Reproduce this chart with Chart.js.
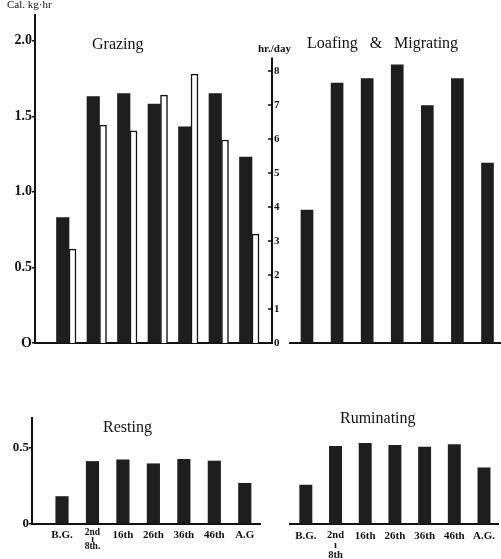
<!DOCTYPE html>
<html>
<head>
<meta charset="utf-8">
<script src="https://cdn.jsdelivr.net/npm/chart.js@4.4.0/dist/chart.umd.min.js"></script>
<style>
  body { margin: 0; background: #fff; }
  #wrap { position: relative; width: 501px; height: 559px; overflow: hidden; font-family: 'Liberation Serif', serif; color: #111; }
  canvas { position: absolute; }
  .t { position: absolute; white-space: pre; line-height: 1; }
</style>
</head>
<body>
<div id="wrap">
  <canvas id="cGraze" width="290" height="360" style="left:0;top:0"></canvas>
  <canvas id="cLoaf" width="216" height="360" style="left:285px;top:0"></canvas>
  <canvas id="cRest" width="285" height="179" style="left:0;top:380px"></canvas>
  <canvas id="cRum" width="216" height="179" style="left:285px;top:380px"></canvas>

  <div class="t" style="left:7px;top:-1px;font-size:11px">Cal. kg·hr</div>
  <div class="t" style="left:258px;top:43px;font-size:11px;font-weight:bold">hr./day</div>
  <div class="t" style="left:92px;top:36px;font-size:16px">Grazing</div>
  <div class="t" style="left:307px;top:35px;font-size:16px">Loafing   &amp;   Migrating</div>
  <div class="t" style="left:103px;top:419px;font-size:16px">Resting</div>
  <div class="t" style="left:340px;top:410px;font-size:16px">Ruminating</div>
</div>
<script>
const periods = ['B.G.', ['2nd', 'ı', '8th.'], '16th', '26th', '36th', '46th', 'A.G'];
const periodsRum = ['B.G.', ['2nd', 'ı', '8th'], '16th', '26th', '36th', '46th', 'A.G.'];

// Cal/kg·hr (black bars) and hr/day (white bars)
const grazingCal = [0.83, 1.63, 1.65, 1.58, 1.43, 1.65, 1.23];
const grazingHours = [2.76, 6.41, 6.24, 7.29, 7.91, 5.97, 3.2];
const loafingCal = [0.88, 1.72, 1.75, 1.84, 1.57, 1.75, 1.19];
const restingCal = [0.18, 0.41, 0.42, 0.395, 0.424, 0.413, 0.267];
const ruminatingCal = [0.256, 0.51, 0.529, 0.515, 0.504, 0.521, 0.369];

const calTicksTop = [0, 0.5, 1.0, 1.5, 2.0];
const hourTicks = [0, 1, 2, 3, 4, 5, 6, 7, 8];
const calTicksBottom = [0, 0.5];
const hourAxisTop = 8.4;

const ink = '#111';
const barInk = '#1e1e1e';
const serif = 'Liberation Serif';

const pts = vals => vals.map((v, i) => ({ x: i, y: v }));

function xScale(labels, min, max, height, showLabels, pad, fontFn) {
  return {
    type: 'linear', min, max, bounds: 'data', offset: false, grace: 0,
    afterBuildTicks: s => { s.ticks = labels.map((_, i) => ({ value: i })); },
    afterFit: s => { s.height = height; },
    grid: { display: false, drawTicks: false, tickLength: 0, offset: false },
    border: { display: true, color: ink, width: 2 },
    ticks: {
      display: showLabels, autoSkip: false, maxRotation: 0, minRotation: 0,
      padding: pad, color: ink, font: fontFn,
      callback: v => labels[v]
    }
  };
}

function calAxis(max, ticks, width, size, fmt) {
  return {
    position: 'left', min: 0, max,
    afterBuildTicks: s => { s.ticks = ticks.map(v => ({ value: v })); },
    afterFit: s => { s.width = width; },
    grid: { display: true, drawOnChartArea: false, drawTicks: true, tickLength: 3, color: ink, lineWidth: 1.5 },
    border: { display: true, color: ink, width: 2 },
    ticks: { padding: 0, color: ink, font: { family: serif, size, weight: 'bold' }, callback: fmt }
  };
}

const hiddenY = max => ({ display: false, min: 0, max });

const hourAxis = {
  id: 'hourAxis',
  afterDatasetsDraw(chart) {
    const s = chart.scales.y2;
    const c = chart.ctx;
    c.save();
    c.strokeStyle = ink;
    c.lineWidth = 2;
    c.beginPath();
    c.moveTo(s.left, s.getPixelForValue(0));
    c.lineTo(s.left, s.getPixelForValue(hourAxisTop));
    c.stroke();
    c.lineWidth = 1.5;
    hourTicks.forEach(v => {
      const y = s.getPixelForValue(v);
      c.beginPath();
      c.moveTo(s.left - 4, y);
      c.lineTo(s.left, y);
      c.stroke();
    });
    c.restore();
  }
};

const base = padding => ({
  responsive: false,
  animation: false,
  layout: { padding, autoPadding: false },
  plugins: { legend: { display: false }, tooltip: { enabled: false } }
});

// Grazing
new Chart(document.getElementById('cGraze'), {
  type: 'bar',
  data: {
    datasets: [
      { data: pts(grazingCal), yAxisID: 'y', stack: 'cal', backgroundColor: barInk, barThickness: 12.5 },
      { data: pts(grazingHours), yAxisID: 'y2', stack: 'hr', backgroundColor: '#fff', borderColor: ink, borderWidth: 1.5, barThickness: 7 }
    ]
  },
  options: {
    ...base({ top: 15, left: 0, right: 0, bottom: 0 }),
    scales: {
      x: xScale(periods, -1.115, 6.656, 17, false, 0),
      y: calAxis(2.17, calTicksTop, 35, 14, v => v === 0 ? 'O' : v.toFixed(1)),
      y2: {
        position: 'right', min: 0, max: 9.647,
        afterBuildTicks: s => { s.ticks = hourTicks.map(v => ({ value: v })); },
        afterFit: s => { s.width = 18; },
        grid: { display: false, drawTicks: false, tickLength: 0 },
        border: { display: false },
        ticks: { padding: 2, color: ink, font: { family: serif, size: 11, weight: 'bold' } }
      }
    }
  },
  plugins: [hourAxis]
});

// Loafing & Migrating
new Chart(document.getElementById('cLoaf'), {
  type: 'bar',
  data: { datasets: [{ data: pts(loafingCal), backgroundColor: barInk, barThickness: 12 }] },
  options: {
    ...base({ top: 15, left: 5, right: 0, bottom: 0 }),
    scales: {
      x: xScale(periods, -0.565, 6.449, 17, false, 0),
      y: hiddenY(2.17)
    }
  }
});

const tickFont = (multiSize, multiLH) => ctx =>
  Array.isArray(periods[ctx.index])
    ? { family: serif, size: multiSize, weight: 'bold', lineHeight: multiLH }
    : { family: serif, size: 11, weight: 'bold', lineHeight: 1.2 };

// Resting
new Chart(document.getElementById('cRest'), {
  type: 'bar',
  data: { datasets: [{ data: pts(restingCal), backgroundColor: barInk, barThickness: 12.5 }] },
  options: {
    ...base({ top: 38, left: 0, right: 25, bottom: 0 }),
    scales: {
      x: xScale(periods, -0.985, 6.5, 35, true, 5, tickFont(9.5, 0.72)),
      y: calAxis(0.695, calTicksBottom, 32, 13, v => v === 0 ? '0' : v.toFixed(1))
    }
  }
});

// Ruminating
new Chart(document.getElementById('cRum'), {
  type: 'bar',
  data: { datasets: [{ data: pts(ruminatingCal), backgroundColor: barInk, barThickness: 12.3 }] },
  options: {
    ...base({ top: 38, left: 5, right: 0, bottom: 0 }),
    scales: {
      x: xScale(periodsRum, -0.533, 6.49, 35, true, 6, tickFont(10.5, 0.95)),
      y: hiddenY(0.695)
    }
  }
});
</script>
</body>
</html>
